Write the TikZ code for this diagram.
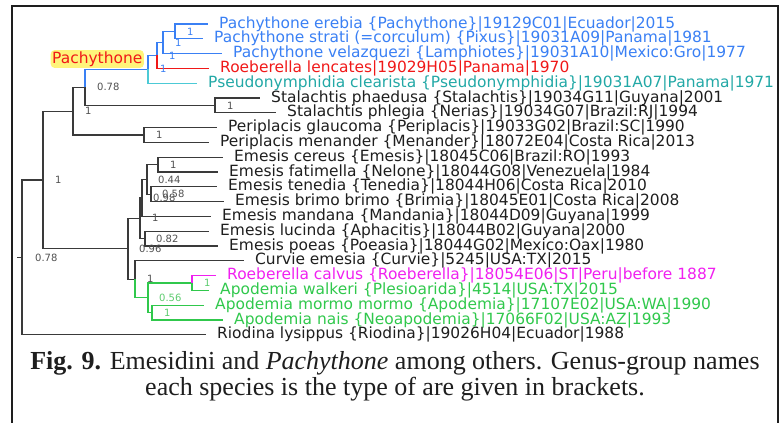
\documentclass[tikz,border=0pt]{standalone}
\usepackage{fontspec}
\setmainfont{Liberation Serif}
\setsansfont{DejaVu Sans}
\usepackage{tikz}
\usetikzlibrary{positioning}
\definecolor{CladeBlue}{HTML}{3A80F4}
\definecolor{CladeRed}{HTML}{F01818}
\definecolor{CladeTeal}{HTML}{22A8A6}
\definecolor{CladeCyan}{HTML}{4CCAD6}
\definecolor{CladeMagenta}{HTML}{F020F0}
\definecolor{CladeGreen}{HTML}{30C84C}
\definecolor{SupGreen}{HTML}{5CCB6E}
\definecolor{Branch}{HTML}{3A3A3A}
\definecolor{Support}{HTML}{505050}
\definecolor{Dark}{HTML}{1E1E1E}
\definecolor{Glow}{HTML}{FFF47A}
\tikzset{
  leaf/.style={font=\sffamily\fontsize{15.45}{16}\selectfont, text=Dark, inner sep=0pt},
  sup/.style={font=\sffamily\fontsize{10}{11}\selectfont, text=Support, inner sep=0pt},
  br/.style={draw=Branch, line width=1.3pt},
  capline/.style={font=\fontsize{26}{27}\selectfont, text=Dark, inner sep=0pt, anchor=base}
}

\begin{document}
\begin{tikzpicture}[x=1pt,y=-1pt]
  \useasboundingbox (0,0) rectangle (782,423);
  % frame
  \draw[line width=2pt, Dark] (12,423) -- (12,6) -- (778,6) -- (778,423);

  % inner nodes of the tree
  \coordinate (stub) at (17,257.4);
  \coordinate (root) at (22,257.4);
  \coordinate (nA) at (43,180);
  \coordinate (nB) at (73,111.2);
  \coordinate (nC) at (85,87.35);
  \coordinate (nD) at (148,69.3);
  \coordinate (nE) at (157,55.45);
  \coordinate (nF) at (163,42.5);
  \coordinate (nG) at (175,31.4);
  \coordinate (nStal) at (215,105.4);
  \coordinate (nPeri) at (144,135);
  \coordinate (nH) at (128,248.8);
  \coordinate (nI) at (140,218.25);
  \coordinate (nJ) at (142,197.9);
  \coordinate (nR) at (147,179.4);
  \coordinate (nQ) at (158,164.6);
  \coordinate (nS) at (151,194.2);
  \coordinate (nL) at (145,238.6);
  \coordinate (nM) at (135,279.3);
  \coordinate (nN) at (148,297.8);
  \coordinate (nO) at (192,283);
  \coordinate (nP) at (152,312.6);

  % tips
  \coordinate (tErebia) at (208,24);
  \coordinate (tStrati) at (203,38.8);
  \coordinate (tVelaz) at (222,53.6);
  \coordinate (tLencates) at (209,68.4);
  \coordinate (tPseudo) at (197,83.2);
  \coordinate (tPhaed) at (260,98);
  \coordinate (tPhleg) at (276,112.8);
  \coordinate (tGlauc) at (217,127.6);
  \coordinate (tMenan) at (209,142.4);
  \coordinate (tCereus) at (223,157.2);
  \coordinate (tFatim) at (218,172);
  \coordinate (tTened) at (217,186.8);
  \coordinate (tBrimo) at (224,201.6);
  \coordinate (tMandana) at (211,216.4);
  \coordinate (tLucinda) at (209,231.2);
  \coordinate (tPoeas) at (218,246);
  \coordinate (tCurvie) at (244,260.8);
  \coordinate (tCalvus) at (216,275.6);
  \coordinate (tWalkeri) at (209,290.4);
  \coordinate (tMormo) at (204,305.2);
  \coordinate (tNais) at (223,320);
  \coordinate (tRiodina) at (206,334.8);

  % branches
  \draw[br] (stub) -- (root) |- (nA) |- (nB) |- (nC) |- (nStal) |- (tPhaed);
  \draw[br] (root) |- (tRiodina);
  \draw[br] (nA) |- (nH) |- (nI) |- (nJ) |- (nR) |- (nQ) |- (tCereus);
  \draw[br] (nB) |- (nPeri) |- (tGlauc);
  \draw[br] (nPeri) |- (tMenan);
  \draw[br] (nStal) |- (tPhleg);
  \draw[br] (nQ) |- (tFatim);
  \draw[br] (nR) |- (nS) |- (tTened);
  \draw[br] (nS) |- (tBrimo);
  \draw[br] (nJ) |- (tMandana);
  \draw[br] (nI) |- (nL) |- (tLucinda);
  \draw[br] (nL) |- (tPoeas);
  \draw[br] (nH) |- (nM) |- (tCurvie);
  \draw[br, draw=CladeBlue] (nC) |- (nD) |- (nE) |- (nF) |- (nG) |- (tErebia);
  \draw[br, draw=CladeBlue] (nG) |- (tStrati);
  \draw[br, draw=CladeBlue] (nF) |- (tVelaz);
  \draw[br, draw=CladeRed] (nE) |- (tLencates);
  \draw[br, draw=CladeCyan] (nD) |- (tPseudo);
  \draw[br, draw=CladeGreen] (nM) |- (nN) |- (nO) |- (tWalkeri);
  \draw[br, draw=CladeGreen] (nN) |- (nP) |- (tMormo);
  \draw[br, draw=CladeGreen] (nP) |- (tNais);
  \draw[br, draw=CladeMagenta] (nO) |- (tCalvus);

  % species
  \node[leaf, text=CladeBlue, right=11pt of tErebia] (lErebia) {Pachythone erebia \{Pachythone\}|19129C01|Ecuador|2015};
  \node[leaf, text=CladeBlue, right=11pt of tStrati] (lStrati) {Pachythone strati (=corculum) \{Pixus\}|19031A09|Panama|1981};
  \node[leaf, text=CladeBlue, right=11pt of tVelaz] (lVelaz) {Pachythone velazquezi \{Lamphiotes\}|19031A10|Mexico:Gro|1977};
  \node[leaf, text=CladeRed, right=11pt of tLencates] (lLencates) {Roeberella lencates|19029H05|Panama|1970};
  \node[leaf, text=CladeTeal, right=11pt of tPseudo] (lPseudo) {Pseudonymphidia clearista \{Pseudonymphidia\}|19031A07|Panama|1971};
  \node[leaf, right=11pt of tPhaed] (lPhaed) {Stalachtis phaedusa \{Stalachtis\}|19034G11|Guyana|2001};
  \node[leaf, right=11pt of tPhleg] (lPhleg) {Stalachtis phlegia \{Nerias\}|19034G07|Brazil:RJ|1994};
  \node[leaf, right=11pt of tGlauc] (lGlauc) {Periplacis glaucoma \{Periplacis\}|19033G02|Brazil:SC|1990};
  \node[leaf, right=11pt of tMenan] (lMenan) {Periplacis menander \{Menander\}|18072E04|Costa Rica|2013};
  \node[leaf, right=11pt of tCereus] (lCereus) {Emesis cereus \{Emesis\}|18045C06|Brazil:RO|1993};
  \node[leaf, right=11pt of tFatim] (lFatim) {Emesis fatimella \{Nelone\}|18044G08|Venezuela|1984};
  \node[leaf, right=11pt of tTened] (lTened) {Emesis tenedia \{Tenedia\}|18044H06|Costa Rica|2010};
  \node[leaf, right=11pt of tBrimo] (lBrimo) {Emesis brimo brimo \{Brimia\}|18045E01|Costa Rica|2008};
  \node[leaf, right=11pt of tMandana] (lMandana) {Emesis mandana \{Mandania\}|18044D09|Guyana|1999};
  \node[leaf, right=11pt of tLucinda] (lLucinda) {Emesis lucinda \{Aphacitis\}|18044B02|Guyana|2000};
  \node[leaf, right=11pt of tPoeas] (lPoeas) {Emesis poeas \{Poeasia\}|18044G02|Mexico:Oax|1980};
  \node[leaf, right=11pt of tCurvie] (lCurvie) {Curvie emesia \{Curvie\}|5245|USA:TX|2015};
  \node[leaf, text=CladeMagenta, right=11pt of tCalvus] (lCalvus) {Roeberella calvus \{Roeberella\}|18054E06|ST|Peru|before 1887};
  \node[leaf, text=CladeGreen, right=11pt of tWalkeri] (lWalkeri) {Apodemia walkeri \{Plesioarida\}|4514|USA:TX|2015};
  \node[leaf, text=CladeGreen, right=11pt of tMormo] (lMormo) {Apodemia mormo mormo \{Apodemia\}|17107E02|USA:WA|1990};
  \node[leaf, text=CladeGreen, right=11pt of tNais] (lNais) {Apodemia nais \{Neoapodemia\}|17066F02|USA:AZ|1993};
  \node[leaf, right=11pt of tRiodina] (lRiodina) {Riodina lysippus \{Riodina\}|19026H04|Ecuador|1988};

  % clade name
  \node[leaf, text=CladeRed, anchor=west, fill=Glow, rounded corners=4pt, inner xsep=1.5pt, inner ysep=1.5pt] (pachy) at (50.5,59) {Pachythone};

  % support values
  \node[sup, text=CladeBlue, right=12pt of nG] (sG) {1};
  \node[sup, text=CladeBlue, right=12pt of nF] (sF) {1};
  \node[sup, text=CladeBlue, right=12pt of nE] (sE) {1};
  \node[sup, text=CladeBlue, right=12pt of nD] (sD) {1};
  \node[sup, right=12pt of nC] (sC) {0.78};
  \node[sup, right=12pt of nB] (sB) {1};
  \node[sup, right=12pt of nStal] (sStal) {1};
  \node[sup, right=12pt of nPeri] (sPeri) {1};
  \node[sup, right=12pt of nA] (sA) {1};
  \node[sup, right=12pt of nQ] (sQ) {1};
  \node[sup, right=11pt of nR] (sR) {0.44};
  \node[sup, right=11pt of nJ] (sJ) {0.98};
  \node[sup, right=11pt of nS] (sS) {0.58};
  \node[sup, right=12pt of nI] (sI) {1};
  \node[sup, right=11pt of nL] (sL) {0.82};
  \node[sup, right=11pt of nH] (sH) {0.96};
  \node[sup, right=13pt of root] (sRoot) {0.78};
  \node[sup, right=12pt of nM] (sM) {1};
  \node[sup, text=SupGreen, right=12pt of nO] (sO) {1};
  \node[sup, text=SupGreen, right=11pt of nN] (sN) {0.56};
  \node[sup, text=SupGreen, right=12pt of nP] (sP) {1};

  % caption
  \node[capline] (cap1) at (395,369.5) {\textbf{Fig. 9.} Emesidini and \textit{Pachythone} among others. Genus-group names};
  \node[capline] (cap2) at (395,395) {each species is the type of are given in brackets.};
\end{tikzpicture}
\end{document}
